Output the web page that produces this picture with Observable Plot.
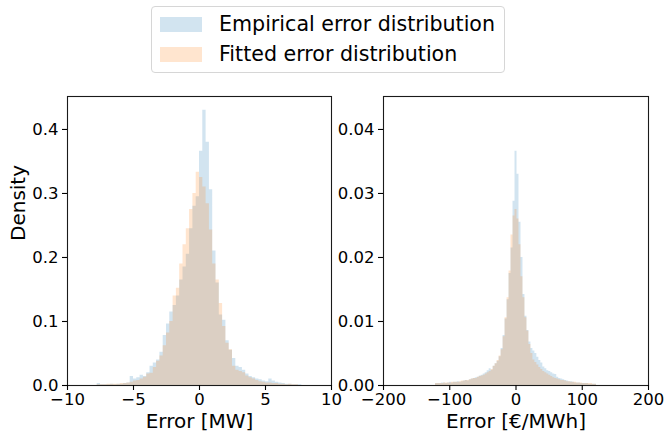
<!DOCTYPE html>
<html>
<head>
<meta charset="utf-8">
<script src="https://cdn.jsdelivr.net/npm/d3@7"></script>
<script src="https://cdn.jsdelivr.net/npm/@observablehq/plot@0.6"></script>
<style>
  html, body { margin: 0; padding: 0; background: #fff; }
  #wrap { position: relative; width: 664px; height: 437px; overflow: hidden; font-family: "DejaVu Sans", sans-serif; }
  #legend { position: absolute; left: 151px; top: 6px; width: 352px; height: 65px; border: 1px solid #d6d6d6; border-radius: 4px; background: #fff; }
  .row { position: absolute; left: 8px; height: 15px; display: flex; align-items: center; }
  .sw { width: 42px; height: 15px; }
  .lab { margin-left: 17px; font-size: 20.6px; color: #000; white-space: nowrap; line-height: 15px; }
  #left { position: absolute; left: 0; top: 80px; }
  #right { position: absolute; left: 340px; top: 80px; }
  svg { overflow: visible; }
</style>
</head>
<body>
<div id="wrap">
  <div id="legend"></div>
  <div id="left"></div>
  <div id="right"></div>
</div>
<script>
// ---- Data (densities) ----
const seriesNames = ["Empirical error distribution", "Fitted error distribution"];
const seriesColors = ["#1f77b4", "#ff7f0e"];

// Left panel: error in MW, bins of 0.25 starting at -8
const mwStart = -8;
const mwWidth = 0.25;
const mwEmpirical = [
  0.000, 0.003, 0.001, 0.001, 0.001, 0.002, 0.001, 0.002,
  0.002, 0.003, 0.004, 0.014, 0.010, 0.012, 0.016, 0.014,
  0.020, 0.030, 0.035, 0.040, 0.052, 0.078, 0.096, 0.115,
  0.125, 0.140, 0.165, 0.185, 0.205, 0.245, 0.280, 0.295,
  0.366, 0.430, 0.380, 0.306, 0.210, 0.160, 0.110, 0.102,
  0.070, 0.055, 0.042, 0.030, 0.028, 0.024, 0.018, 0.014,
  0.012, 0.010, 0.009, 0.007, 0.006, 0.010, 0.007, 0.005,
  0.004, 0.003, 0.002, 0.002, 0.001, 0.001, 0.001, 0.000
];
const mwFitted = [
  0.000, 0.001, 0.001, 0.001, 0.002, 0.002, 0.002, 0.002,
  0.003, 0.003, 0.004, 0.005, 0.007, 0.008, 0.010, 0.013,
  0.018, 0.019, 0.028, 0.038, 0.046, 0.062, 0.082, 0.100,
  0.140, 0.152, 0.190, 0.220, 0.245, 0.275, 0.300, 0.333,
  0.325, 0.310, 0.284, 0.243, 0.190, 0.165, 0.128, 0.092,
  0.066, 0.056, 0.030, 0.024, 0.022, 0.020, 0.015, 0.012,
  0.010, 0.008, 0.006, 0.005, 0.004, 0.004, 0.003, 0.003,
  0.002, 0.002, 0.001, 0.002, 0.001, 0.001, 0.000, 0.000
];

// Right panel: error in €/MWh, bins of 3 starting at -121.5 (values x 1e-3)
const priceStart = -121.5;
const priceWidth = 3;
const priceEmpirical = [
  0.3, 0.3, 0.3, 0.4, 0.4, 0.3, 0.4, 0.5, 0.4, 0.5,
  0.5, 0.6, 0.5, 0.6, 0.7, 0.8, 0.7, 0.9, 1.0, 1.1,
  1.2, 1.3, 1.5, 1.6, 1.8, 2.0, 2.3, 2.6, 2.4, 3.0,
  3.4, 3.8, 4.5, 5.8, 7.8, 10.4, 13.4, 17.5, 21.5, 28.8,
  36.6,
  33.0, 25.5, 20.0, 14.2, 10.8, 8.6, 6.8, 5.8, 5.4, 5.0,
  4.4, 3.9, 3.5, 2.9, 2.6, 2.3, 2.2, 2.0, 1.8, 1.7,
  1.3, 1.1, 1.0, 0.9, 0.8, 0.7, 0.6, 0.6, 0.5, 0.4,
  0.4, 0.4, 0.3, 0.3, 0.3, 0.3, 0.2, 0.2, 0.2, 0.2
];
const priceFitted = [
  0.3, 0.3, 0.3, 0.3, 0.4, 0.4, 0.4, 0.4, 0.5, 0.5,
  0.5, 0.5, 0.6, 0.7, 0.7, 0.8, 0.8, 0.9, 1.0, 1.1,
  1.1, 1.3, 1.4, 1.5, 1.6, 1.8, 2.0, 2.2, 2.5, 3.0,
  3.4, 3.9, 4.6, 5.6, 7.6, 10.6, 13.7, 17.9, 23.5, 26.5,
  27.5,
  26.0, 22.0, 17.0, 13.7, 10.6, 8.5, 6.4, 5.0, 4.0, 3.6,
  3.2, 2.8, 2.5, 2.2, 2.0, 1.8, 1.6, 1.4, 1.2, 1.1,
  1.0, 0.9, 0.8, 0.8, 0.7, 0.6, 0.6, 0.5, 0.5, 0.5,
  0.4, 0.4, 0.4, 0.3, 0.3, 0.3, 0.3, 0.3, 0.2, 0.2
];
const priceScale = 0.001;

const mwTicks = [-10, -5, 0, 5, 10];
const mwYTicks = [0, 0.1, 0.2, 0.3, 0.4];
const priceTicks = [-200, -100, 0, 100, 200];
const priceYTicks = [0, 0.01, 0.02, 0.03, 0.04];

// ---- helpers ----
function stepRows(values, start, width, k = 1) {
  const rows = values.map((v, i) => ({x: start + i * width, y: v * k}));
  rows.push({x: start + values.length * width, y: 0});
  return rows;
}

// Legend
const legend = document.getElementById("legend");
seriesNames.forEach((name, i) => {
  const row = document.createElement("div");
  row.className = "row";
  row.style.top = (i === 0 ? 10 : 40) + "px";
  const sw = document.createElement("div");
  sw.className = "sw";
  sw.style.background = seriesColors[i];
  sw.style.opacity = 0.2;
  const lab = document.createElement("div");
  lab.className = "lab";
  lab.textContent = name;
  row.appendChild(sw);
  row.appendChild(lab);
  legend.appendChild(row);
});

const common = {
  height: 357,
  marginTop: 16,
  marginBottom: 52,
  style: {fontFamily: "DejaVu Sans, sans-serif", fontSize: "16.5px", color: "#000", background: "transparent"}
};

function panel({width, marginLeft, marginRight, xDomain, yDomain, xTicks, yTicks, yFmt, emp, fit, start, binW, k, xLabel, yLabel}) {
  const marks = [
    Plot.areaY(stepRows(emp, start, binW, k), {x: "x", y: "y", curve: "step-after", fill: seriesColors[0], fillOpacity: 0.2}),
    Plot.areaY(stepRows(fit, start, binW, k), {x: "x", y: "y", curve: "step-after", fill: seriesColors[1], fillOpacity: 0.2}),
    Plot.frame({stroke: "#1a1a1a", strokeWidth: 1.1}),
    Plot.axisX({ticks: xTicks, tickFormat: d3.format("d"), tickSize: 5, tickPadding: 3, label: null, strokeWidth: 1.1}),
    Plot.axisY({ticks: yTicks, tickFormat: d3.format(yFmt), tickSize: 5, tickPadding: 4, label: null, strokeWidth: 1.1}),
    Plot.text([xLabel], {text: d => d, frameAnchor: "bottom", dy: 42, fontSize: 20, fill: "#000"})
  ];
  if (yLabel) marks.push(Plot.text([yLabel], {text: d => d, frameAnchor: "left", dx: -49, rotate: -90, fontSize: 20, fill: "#000"}));
  return Plot.plot({
    ...common,
    width, marginLeft, marginRight,
    x: {domain: xDomain},
    y: {domain: yDomain},
    marks
  });
}

document.getElementById("left").appendChild(panel({
  width: 345, marginLeft: 67, marginRight: 14,
  xDomain: [-10, 10], yDomain: [0, 0.4515],
  xTicks: mwTicks, yTicks: mwYTicks, yFmt: ".1f",
  emp: mwEmpirical, fit: mwFitted, start: mwStart, binW: mwWidth, k: 1,
  xLabel: "Error [MW]", yLabel: "Density"
}));

document.getElementById("right").appendChild(panel({
  width: 324, marginLeft: 43, marginRight: 16,
  xDomain: [-200, 200], yDomain: [0, 0.04515],
  xTicks: priceTicks, yTicks: priceYTicks, yFmt: ".2f",
  emp: priceEmpirical, fit: priceFitted, start: priceStart, binW: priceWidth, k: priceScale,
  xLabel: "Error [€/MWh]", yLabel: null
}));
</script>
</body>
</html>
